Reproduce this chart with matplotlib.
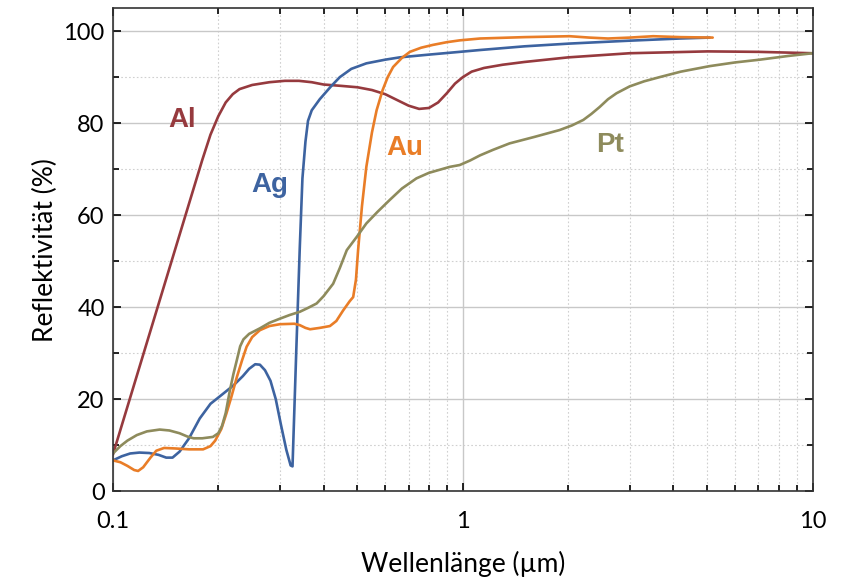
import matplotlib
matplotlib.use("Agg")
import matplotlib.pyplot as plt
from matplotlib.ticker import FixedLocator, NullFormatter, MultipleLocator

# Reflektivität (%) over Wellenlänge (µm)
al_x = [0.1, 0.18, 0.19, 0.2, 0.21, 0.22, 0.23, 0.25, 0.28, 0.31, 0.34, 0.37, 0.4, 0.45, 0.5,
        0.55, 0.6, 0.65, 0.7, 0.75, 0.8, 0.85, 0.9, 0.95, 1.0, 1.06, 1.15, 1.3, 1.5, 2.0, 3.0,
        5.0, 7.0, 10]
al_y = [8, 72, 77.5, 81.5, 84.5, 86.3, 87.4, 88.3, 88.9, 89.2, 89.2, 88.9, 88.4, 88.1, 87.8,
        87.2, 86.3, 85.0, 83.8, 83.1, 83.3, 84.5, 86.5, 88.6, 90.0, 91.2, 92.0, 92.7, 93.3, 94.3, 95.2,
        95.6, 95.5, 95.2]

ag_x = [0.1, 0.106, 0.112, 0.119, 0.127, 0.135, 0.142, 0.148, 0.155, 0.165, 0.177, 0.19, 0.205,
        0.221, 0.235, 0.245, 0.255, 0.263, 0.272, 0.282, 0.292, 0.302, 0.313, 0.322, 0.326,
        0.334, 0.342, 0.348, 0.355, 0.361, 0.37, 0.39, 0.42, 0.445, 0.48, 0.53, 0.6, 0.66, 0.8,
        0.98, 1.12, 1.5, 2.02, 2.94, 4.17, 5.08]
ag_y = [6.7, 7.6, 8.2, 8.4, 8.3, 7.9, 7.3, 7.3, 8.6, 11.5, 15.8, 19, 21,
        23, 25, 26.6, 27.6, 27.5, 26.3, 24, 20, 14.5, 9, 5.6, 5.4,
        30, 53, 68, 76, 80.5, 82.8, 85.2, 88, 90, 91.8, 93, 93.8, 94.3, 94.9,
        95.5, 95.9, 96.7, 97.3, 97.9, 98.4, 98.6]

au_x = [0.1, 0.105, 0.11, 0.115, 0.118, 0.122, 0.128, 0.133, 0.14, 0.15, 0.165, 0.181, 0.19,
        0.196, 0.204, 0.211, 0.218, 0.226, 0.234, 0.241, 0.25, 0.263, 0.28, 0.30, 0.33, 0.342,
        0.355, 0.366, 0.39, 0.417, 0.435, 0.455, 0.475, 0.486, 0.495, 0.502, 0.515, 0.53, 0.55,
        0.567, 0.59, 0.61, 0.632, 0.67, 0.706, 0.76, 0.82, 0.9, 0.98, 1.12, 1.5, 2.02, 2.3, 2.6,
        3.0, 3.5, 4.2, 5.18]
au_y = [6.7, 6.3, 5.5, 4.6, 4.4, 5.2, 7.3, 8.8, 9.4, 9.3, 9.1, 9.1, 9.8,
        11, 13.5, 16.9, 20.5, 24.8, 28.5, 31.4, 33.5, 35, 35.9, 36.3, 36.4, 36.1,
        35.5, 35.2, 35.5, 35.9, 37, 39.3, 41.3, 42.2, 46, 52.4, 62, 70.5, 78,
        82.8, 87.2, 90, 92.2, 94.2, 95.5, 96.4, 97, 97.6, 98, 98.4, 98.7, 98.9, 98.6, 98.4,
        98.6, 98.9, 98.7, 98.6]

pt_x = [0.1, 0.105, 0.11, 0.117, 0.125, 0.136, 0.145, 0.155, 0.163, 0.17, 0.18, 0.193, 0.2,
        0.205, 0.21, 0.216, 0.221, 0.226, 0.231, 0.236, 0.245, 0.263, 0.28, 0.30, 0.32, 0.342,
        0.36, 0.382, 0.40, 0.426, 0.445, 0.466, 0.5, 0.53, 0.57, 0.618, 0.67, 0.737, 0.8, 0.918,
        0.98, 1.05, 1.12, 1.22, 1.36, 1.6, 1.89, 2.05, 2.21, 2.33, 2.46, 2.6, 2.75, 3.0, 3.3,
        3.65, 4.2, 5.08, 6.0, 7.06, 8.5, 10]
pt_y = [8.2, 9.8, 11, 12.2, 13, 13.4, 13.2, 12.6, 11.9, 11.5, 11.5, 11.8, 12.6,
        14.2, 17, 22, 25.5, 28.5, 31.5, 33, 34.2, 35.4, 36.6, 37.5, 38.3, 39,
        39.8, 40.8, 42.4, 45.1, 48.5, 52.4, 55.5, 58.2, 60.7, 63.3, 65.8, 68, 69.2, 70.5,
        70.9, 71.9, 73, 74.2, 75.6, 77, 78.5, 79.5, 80.7, 82, 83.5, 85.2, 86.5, 88, 89.1,
        90, 91.2, 92.4, 93.2, 93.8, 94.6, 95.2]

names = ["Al", "Ag", "Au", "Pt"]
colors = ["#963a3e", "#3d63a0", "#e97d27", "#8e8b5c"]
label_x = [0.158, 0.281, 0.683, 2.63]
label_y = [80.7, 66.5, 74.6, 75.2]

fig = plt.figure(figsize=(8.43, 5.82), dpi=100)
ax = fig.add_axes([0.134, 0.156, 0.830, 0.830])

for xs, ys, c in zip([al_x, ag_x, au_x, pt_x], [al_y, ag_y, au_y, pt_y], colors):
    ax.plot(xs, ys, color=c, lw=1.9, solid_joinstyle="round", solid_capstyle="round")

for n, c, lx, ly in zip(names, colors, label_x, label_y):
    ax.text(lx, ly, n, color=c, fontsize=20, fontweight="bold", family="Liberation Sans",
            ha="center", va="center")

ax.set_xscale("log")
ax.set_xlim(0.1, 10)
ax.set_ylim(0, 105)
ax.set_xticks([0.1, 1, 10])
ax.set_xticklabels(["0.1", "1", "10"])
ax.xaxis.set_minor_locator(FixedLocator([k * 10.0**e for e in (-1, 0) for k in range(2, 10)]))
ax.xaxis.set_minor_formatter(NullFormatter())
ax.set_yticks([0, 20, 40, 60, 80, 100])
ax.yaxis.set_minor_locator(MultipleLocator(10))

ax.grid(which="major", color="#c8c8c8", lw=1.0)
ax.grid(which="minor", color="#d0d0d0", lw=0.8, ls=(0, (1.5, 2)))
ax.set_axisbelow(True)

ax.tick_params(which="both", direction="in", top=True, right=True, labelsize=17, width=1.2)
ax.tick_params(which="major", length=6)
ax.tick_params(which="minor", length=4)
ax.tick_params(axis="x", pad=14)
ax.tick_params(axis="y", pad=6)
for lab in ax.get_xticklabels() + ax.get_yticklabels():
    lab.set_family("Lato")
for s in ax.spines.values():
    s.set_linewidth(1.2)
    s.set_color("#333333")

ax.set_xlabel("Wellenlänge (µm)", fontsize=19, family="Lato", labelpad=14)
ax.set_ylabel("Reflektivität (%)", fontsize=19, family="Lato", labelpad=4)

fig.savefig("out.png", dpi=100)
